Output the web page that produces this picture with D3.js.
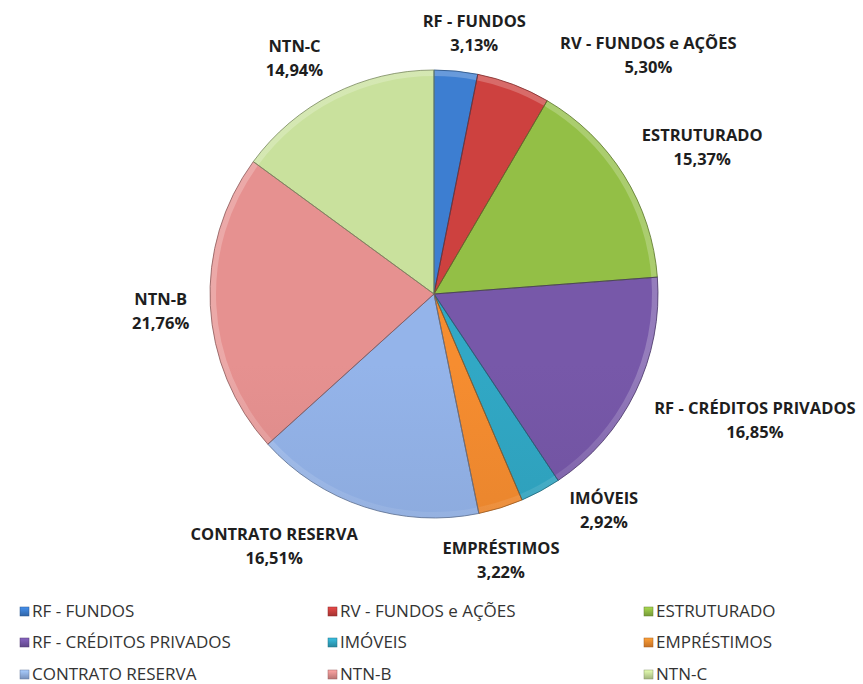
<!DOCTYPE html>
<html>
<head>
<meta charset="utf-8">
<script src="https://cdn.jsdelivr.net/npm/d3@7"></script>
<style>
    body { margin: 0; background: #fff; }
    .slice-label { font-family: "Open Sans", sans-serif; font-weight: 700; font-size: 16.5px; fill: #1e1e1e; }
    .legend-text { font-family: "Open Sans", sans-serif; font-size: 17px; fill: #333; }
</style>
</head>
<body>
<div id="chart"></div>
<script>
// values (percent)
const categories = ['RF - FUNDOS', 'RV - FUNDOS e AÇÕES', 'ESTRUTURADO', 'RF - CRÉDITOS PRIVADOS',
    'IMÓVEIS', 'EMPRÉSTIMOS', 'CONTRATO RESERVA', 'NTN-B', 'NTN-C'];
const values = [3.13, 5.30, 15.37, 16.85, 2.92, 3.22, 16.51, 21.76, 14.94];
const colors = ['#3a79c8', '#c43e3c', '#8db743', '#7254a2', '#2fa1bd', '#ec872e', '#8eace0', '#dc8b8a', '#c1d896'];

const W = 863, H = 684;
const CX = 434, CY = 294, RADIUS = 224;

const data = categories.map((c, i) => ({ name: c, value: values[i], color: colors[i] }));
const fmt = (v) => d3.format('.2f')(v).replace('.', ',') + '%';

const svg = d3.select('#chart')
    .append('svg')
    .attr('width', W)
    .attr('height', H);

const defs = svg.append('defs');

// vertical shading over the whole pie, lighter at the top
data.forEach((d, i) => {
    const g = defs.append('linearGradient')
        .attr('id', `grad-${i}`)
        .attr('gradientUnits', 'userSpaceOnUse')
        .attr('x1', 0).attr('x2', 0)
        .attr('y1', CY - RADIUS).attr('y2', CY + RADIUS);
    g.append('stop').attr('offset', '0%').attr('stop-color', d3.color(d.color).brighter(0.12));
    g.append('stop').attr('offset', '100%').attr('stop-color', d3.color(d.color).darker(0.3));

    const m = defs.append('linearGradient')
        .attr('id', `mark-${i}`)
        .attr('x1', 0).attr('x2', 0).attr('y1', 0).attr('y2', 1);
    m.append('stop').attr('offset', '0%').attr('stop-color', d3.color(d.color).brighter(0.5));
    m.append('stop').attr('offset', '100%').attr('stop-color', d3.color(d.color).darker(0.5));
});

const rim = defs.append('linearGradient')
    .attr('id', 'rim')
    .attr('gradientUnits', 'userSpaceOnUse')
    .attr('x1', 0).attr('x2', 0)
    .attr('y1', CY - RADIUS).attr('y2', CY + RADIUS);
rim.append('stop').attr('offset', '0%').attr('stop-color', '#fff').attr('stop-opacity', 0.22);
rim.append('stop').attr('offset', '50%').attr('stop-color', '#fff').attr('stop-opacity', 0.0);
rim.append('stop').attr('offset', '100%').attr('stop-color', '#000').attr('stop-opacity', 0.15);

const pie = d3.pie().sort(null).value((d) => d.value);
const arcs = pie(data);

const arc = d3.arc().innerRadius(0).outerRadius(RADIUS);
const rimArc = d3.arc().innerRadius(RADIUS - 6).outerRadius(RADIUS);

const pieG = svg.append('g').attr('transform', `translate(${CX},${CY})`);

pieG.selectAll('path.slice')
    .data(arcs)
    .join('path')
    .attr('class', 'slice')
    .attr('d', arc)
    .attr('fill', (d, i) => `url(#grad-${i})`);

pieG.selectAll('path.rim')
    .data(arcs)
    .join('path')
    .attr('class', 'rim')
    .attr('d', rimArc)
    .attr('fill', 'url(#rim)');

pieG.selectAll('path.edge')
    .data(arcs)
    .join('path')
    .attr('class', 'edge')
    .attr('d', arc)
    .attr('fill', 'none')
    .attr('stroke', (d) => d3.color(d.data.color).darker(1.3))
    .attr('stroke-width', 0.8);

// labels: outside end, box corner pushed away from the pie along the mid angle
const LABEL_R = RADIUS + 21;
const nudge = { 'RV - FUNDOS e AÇÕES': [39, 7], 'IMÓVEIS': [19, -19], 'EMPRÉSTIMOS': [-62, 13] };
const clamp = (v) => Math.max(-1, Math.min(1, v));

const labels = svg.append('g')
    .selectAll('text')
    .data(arcs)
    .join('text')
    .attr('class', 'slice-label')
    .attr('text-anchor', 'middle');

labels.append('tspan').attr('class', 'l1').attr('x', 0).text((d) => d.data.name);
labels.append('tspan').attr('class', 'l2').attr('x', 0).text((d) => fmt(d.data.value));

labels.each(function(d) {
    const t = d3.select(this);
    const w = Math.max(
        t.select('.l1').node().getComputedTextLength(),
        t.select('.l2').node().getComputedTextLength());
    const mid = (d.startAngle + d.endAngle) / 2;
    const dx = Math.sin(mid), dy = -Math.cos(mid);
    const n = nudge[d.data.name] || [0, 0];
    const x = CX + LABEL_R * dx + w / 2 * clamp(dx * 3.2) + n[0];
    const y = CY + LABEL_R * dy + 18 * clamp(dy * 3.2) + n[1];
    t.select('.l1').attr('x', x).attr('y', y - 5);
    t.select('.l2').attr('x', x).attr('y', y + 19);
});

// legend, three columns
const colX = [20, 328, 644];
const rowY = [617, 648, 680];

const legend = svg.append('g')
    .selectAll('g')
    .data(data)
    .join('g')
    .attr('transform', (d, i) => `translate(${colX[i % 3]},${rowY[Math.floor(i / 3)]})`);

legend.append('rect')
    .attr('x', 0)
    .attr('y', -10)
    .attr('width', 9)
    .attr('height', 9)
    .attr('fill', (d, i) => `url(#mark-${i})`)
    .attr('stroke', (d) => d3.color(d.color).darker(1))
    .attr('stroke-width', 0.5);

legend.append('text')
    .attr('class', 'legend-text')
    .attr('x', 12)
    .attr('y', 0)
    .text((d) => d.name);
</script>
</body>
</html>
